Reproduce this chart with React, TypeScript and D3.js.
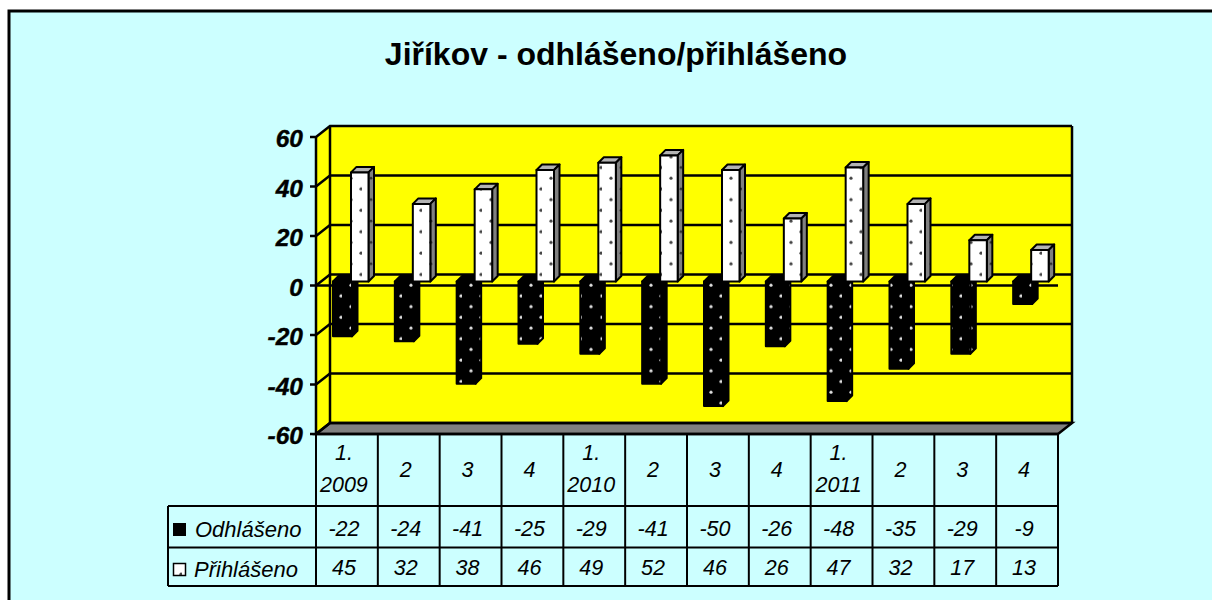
import React from "react";
import * as d3 from "d3";

const title = "Jiříkov - odhlášeno/přihlášeno";
const quarters = [["1.", "2009"], ["2"], ["3"], ["4"], ["1.", "2010"], ["2"], ["3"], ["4"], ["1.", "2011"], ["2"], ["3"], ["4"]];
const odhlaseno = [-22, -24, -41, -25, -29, -41, -50, -26, -48, -35, -29, -9];
const prihlaseno = [45, 32, 38, 46, 49, 52, 46, 26, 47, 32, 17, 13];
const yTicks = [-60, -40, -20, 0, 20, 40, 60];

const width = 1212;
const height = 600;
const depthX = 14;
const depthY = 11;
const barDepth = 5.5;
const font = "'Liberation Sans', Arial, sans-serif";

const x = d3.scaleBand<number>().domain(d3.range(quarters.length)).range([316, 1058]);
const y = d3.scaleLinear().domain([-60, 60]).range([434, 137]);
// bars sit part way into the depth of the chart, so they have their own scale
const yBar = d3.scaleLinear().domain([-60, 0, 60]).range([431, 281.5, 136]);

function Bar({ left, w, v, front, top, side }: { left: number; w: number; v: number; front: string; top: string; side: string }) {
  const y0 = Math.min(yBar(0), yBar(v));
  const y1 = Math.max(yBar(0), yBar(v));
  const r = left + w;
  const sidePath = `M${r},${y0}l${barDepth},${-barDepth}V${y1 - barDepth}l${-barDepth},${barDepth}z`;
  return (
    <g stroke="#000" strokeWidth={2} strokeLinejoin="round">
      <path d={`M${left},${y0}l${barDepth},${-barDepth}h${w}l${-barDepth},${barDepth}z`} fill={top} />
      <path d={sidePath} fill={side} />
      <rect x={left} y={y0} width={w} height={y1 - y0} fill={front} />
    </g>
  );
}

function Dots({ id, bg, dot, size }: { id: string; bg: string; dot: string; size: number }) {
  return (
    <pattern id={id} patternUnits="userSpaceOnUse" width={20} height={21.4} x={2} y={2}>
      <rect width={20} height={21.4} fill={bg} />
      <circle cx={9} cy={5} r={size} fill={dot} />
      <circle cx={19} cy={15.7} r={size} fill={dot} />
    </pattern>
  );
}

export default function App() {
  const xl = x.range()[0];
  const xr = x.range()[1];
  const floor = y(-60);
  const rows = [506, 547.5, 586];
  const mid = (i: number) => x(i)! + x.bandwidth() / 2 - 3;
  return (
    <svg width={width} height={height} style={{ position: "absolute", left: 0, top: 0, background: "#fff" }}>
      <defs>
        <Dots id="dotsWhite" bg="#fff" dot="#444" size={1.6} />
        <Dots id="dotsBlack" bg="#000" dot="#ddd" size={1.6} />
        <Dots id="dotsSide" bg="#808080" dot="#333" size={1.4} />
      </defs>
      <rect x={9} y={11} width={width + 10} height={height + 10} fill="#CCFFFF" stroke="#000" strokeWidth={3} />
      <text x={616} y={65} textAnchor="middle" fontFamily={font} fontWeight="bold" fontSize={32}>{title}</text>

      {/* walls and floor */}
      <path d={`M${xl},${floor}V${y(60)}L${xl + depthX},${y(60) - depthY}H${xr + depthX}V${floor - depthY}H${xl + depthX}z`} fill="#FFFF00" />
      <path d={`M${xl},${floor}L${xl + depthX},${floor - depthY}H${xr + depthX}L${xr},${floor}z`} fill="#808080" stroke="#000" strokeWidth={2.5} />
      <g stroke="#000" strokeWidth={2.5} fill="none">
        {yTicks.map((t) => (
          <path key={t} d={`M${xl - 6},${y(t)}H${xl}L${xl + depthX},${y(t) - depthY}H${xr + depthX}`} />
        ))}
        <path d={`M${xl},${floor}V${y(60)}`} />
        <path d={`M${xl + depthX},${floor - depthY}V${y(60) - depthY}`} />
        <path d={`M${xr + depthX},${floor - depthY}V${y(60) - depthY}`} />
        <path d={`M${xl},${y(0)}H${xr}`} />
      </g>
      {yTicks.map((t) => (
        <text key={t} x={303} y={y(t) + 10} textAnchor="end" fontFamily={font} fontWeight="bold" fontStyle="italic" fontSize={24.5} stroke="#000" strokeWidth={0.4}>{t}</text>
      ))}

      {/* bars */}
      {quarters.map((_, i) => (
        <g key={i}>
          <Bar left={x(i)! + 17} w={19} v={odhlaseno[i]} front="url(#dotsBlack)" top="#000" side="url(#dotsBlack)" />
          <Bar left={x(i)! + 35} w={17.5} v={prihlaseno[i]} front="url(#dotsWhite)" top="#b3b3b3" side="url(#dotsSide)" />
        </g>
      ))}

      {/* data table */}
      <g stroke="#000" strokeWidth={2} fill="none">
        <path d={`M${xl},${floor}H${xr}`} strokeWidth={2.5} />
        {d3.range(quarters.length + 1).map((i) => (
          <path key={i} d={`M${xl + i * x.step()},${floor}V${rows[2]}`} />
        ))}
        {rows.map((r) => <path key={r} d={`M168,${r}H${xr}`} />)}
        <path d={`M168,${rows[0]}V${rows[2]}`} />
      </g>
      <g fontFamily={font} fontStyle="italic" fontSize={21.5} textAnchor="middle">
        {quarters.map((q, i) => (
          <text key={i} x={mid(i)} y={q.length > 1 ? 460 : 477}>
            {q.map((line, j) => <tspan key={j} x={mid(i)} dy={j ? 32 : 0}>{line}</tspan>)}
          </text>
        ))}
        {odhlaseno.map((v, i) => <text key={i} x={mid(i)} y={536}>{v}</text>)}
        {prihlaseno.map((v, i) => <text key={i} x={mid(i)} y={575}>{v}</text>)}
        <text x={195} y={537} textAnchor="start" fontSize={22}>Odhlášeno</text>
        <text x={194} y={577} textAnchor="start" fontSize={22}>Přihlášeno</text>
      </g>
      <rect x={173} y={523} width={13} height={13} fill="#000" />
      <rect x={173.5} y={563.5} width={12} height={12} fill="url(#dotsWhite)" stroke="#000" strokeWidth={1.5} />
    </svg>
  );
}
